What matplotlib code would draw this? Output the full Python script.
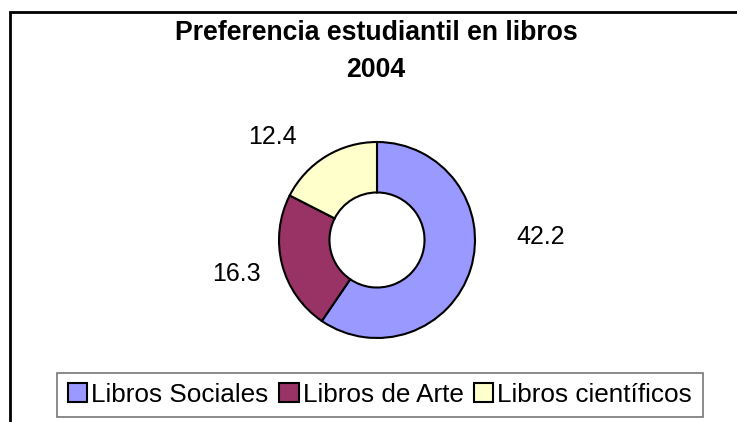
import matplotlib
matplotlib.use("Agg")
import matplotlib.pyplot as plt
from matplotlib.patches import Rectangle, Patch

plt.rcParams['font.family'] = ['Liberation Sans', 'DejaVu Sans']

# data
categories = ["Libros Sociales", "Libros de Arte", "Libros científicos"]
values = [42.2, 16.3, 12.4]
value_labels = ["42.2", "16.3", "12.4"]
colors = ["#9999FF", "#993366", "#FFFFCC"]

W, H = 737, 422
fig = plt.figure(figsize=(W / 100, H / 100), dpi=100, facecolor='white')

# pie axes covering the figure, 1 data unit = outer radius in pixels
R = 98.0
cx, cy = 377.0, H - 240.0
ax = fig.add_axes([0, 0, 1, 1])
ax.pie(values, colors=colors, startangle=90, counterclock=False,
       radius=1.0, wedgeprops=dict(width=0.515, edgecolor='black', linewidth=1.5))
ax.set_aspect('auto')
ax.set_xlim(-cx / R, (W - cx) / R)
ax.set_ylim(-cy / R, (H - cy) / R)
ax.axis('off')

# value labels (Excel places them outside the ring)
label_pos = [(1.67, 0.03), (-1.43, -0.35), (-1.07, 1.05)]
for txt, (lx, ly) in zip(value_labels, label_pos):
    ax.text(lx, ly, txt, ha='center', va='center', fontsize=18, color='black')

# chart frame (only left/top edges visible in the crop)
fig.patches.append(Rectangle((10 / W, -0.1), 1.2, (H - 12) / H + 0.1,
                             transform=fig.transFigure, fill=False,
                             edgecolor='black', linewidth=2))

# title
fig.text(376 / W, 1 - 33 / H, "Preferencia estudiantil en libros",
         ha='center', va='center', fontsize=19.2, fontweight='bold')
fig.text(376 / W, 1 - 70 / H, "2004",
         ha='center', va='center', fontsize=19.2, fontweight='bold')

# legend
handles = [Patch(facecolor=c, edgecolor='black', linewidth=1.5) for c in colors]
leg = fig.legend(handles, categories, ncol=3, loc='center',
                 bbox_to_anchor=(380 / W, 1 - 395 / H),
                 fontsize=18.8, frameon=True, fancybox=False, shadow=False,
                 handlelength=0.75, handleheight=0.75, handletextpad=0.15,
                 columnspacing=0.4, borderpad=0.4, borderaxespad=0)
leg.get_frame().set_edgecolor('#555555')
leg.get_frame().set_linewidth(1.2)

fig.savefig("out.png", dpi=100, facecolor='white')
